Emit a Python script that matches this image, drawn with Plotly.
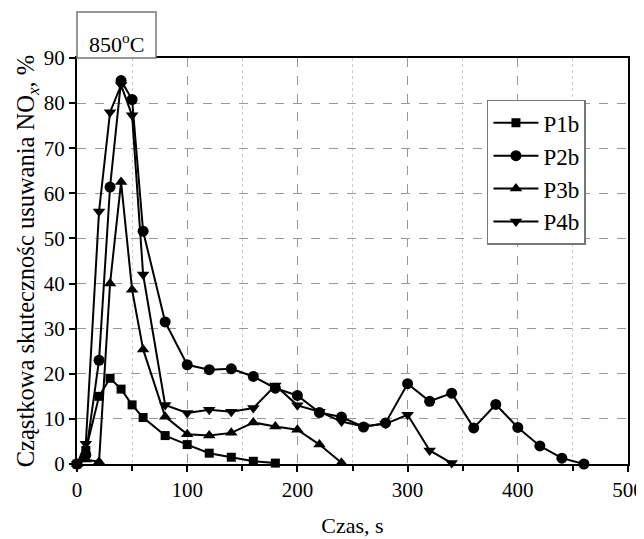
import plotly.graph_objects as go

# ---- data ----
p1b_x = [0, 8, 20, 30, 40, 50, 60, 80, 100, 120, 140, 160, 180]
p1b_y = [0, 3, 15, 19, 16.6, 13.1, 10.3, 6.3, 4.3, 2.4, 1.5, 0.6, 0.2]

p2b_x = [0, 8, 20, 30, 40, 50, 60, 80, 100, 120, 140, 160, 180, 200, 220, 240,
         260, 280, 300, 320, 340, 360, 380, 400, 420, 440, 460]
p2b_y = [0, 2, 23, 61.4, 85, 80.8, 51.6, 31.5, 22, 20.9, 21.1, 19.4, 16.8, 15.2,
         11.4, 10.4, 8.2, 9.1, 17.8, 13.9, 15.7, 8, 13.2, 8.1, 4, 1.3, 0]

p3b_x = [0, 8, 20, 30, 40, 50, 60, 80, 100, 120, 140, 160, 180, 200, 220, 240]
p3b_y = [0, 1, 0.5, 40, 62.5, 38.6, 25.4, 10.5, 6.6, 6.3, 6.9, 9.2, 8.3, 7.6, 4.3, 0.3]

p4b_x = [0, 8, 20, 30, 40, 50, 60, 80, 100, 120, 140, 160, 180, 200, 220, 240,
         260, 280, 300, 320, 340]
p4b_y = [0, 4.5, 56, 78, 84, 77.3, 42, 13.1, 11.3, 12, 11.6, 12.4, 17.4, 13, 11.6,
         9.4, 8.3, 8.9, 10.9, 3, 0.2]

series = [
    ("P1b", p1b_x, p1b_y, "square", 9),
    ("P2b", p2b_x, p2b_y, "circle", 11),
    ("P3b", p3b_x, p3b_y, "triangle-up", 11),
    ("P4b", p4b_x, p4b_y, "triangle-down", 11),
]

FONT = "Liberation Serif"

fig = go.Figure()
for name, xs, ys, sym, sz in series:
    fig.add_trace(go.Scatter(
        x=xs, y=ys, name=name, mode="lines+markers",
        line=dict(color="black", width=2),
        marker=dict(symbol=sym, size=sz, color="black"),
        cliponaxis=False,
    ))

# the page adds an 8px body margin, so the figure is 8px smaller and shifted
fig.update_layout(
    width=636, height=531,
    margin=dict(l=69, r=16, t=50, b=75, autoexpand=False),
    paper_bgcolor="white", plot_bgcolor="white",
    font=dict(family=FONT, size=21, color="black"),
    showlegend=True,
    legend=dict(
        x=0.744, y=0.897, xanchor="left", yanchor="top",
        bordercolor="#777", borderwidth=1.5, bgcolor="white",
        font=dict(family=FONT, size=23),
        itemwidth=45, tracegroupgap=0,
    ),
)

fig.update_xaxes(
    range=[0, 500], dtick=100, tick0=0,
    showline=True, linecolor="black", linewidth=2, mirror=True,
    ticks="outside", ticklen=6, tickwidth=1.5, tickcolor="black",
    showgrid=True, gridcolor="#999", griddash="dash", gridwidth=1,
    minor=dict(dtick=50, ticks="outside", ticklen=5, tickcolor="black",
               showgrid=True, gridcolor="#ccc", griddash="dot", gridwidth=1),
    zeroline=False, automargin=False,
    tickfont=dict(family=FONT, size=21),
    title=dict(text="Czas, s", font=dict(family=FONT, size=22), standoff=16),
)
fig.update_yaxes(
    range=[0, 90], dtick=10, tick0=0,
    showline=True, linecolor="black", linewidth=2, mirror=True,
    ticks="outside", ticklen=6, tickwidth=1.5, tickcolor="black",
    showgrid=True, gridcolor="#999", griddash="dash", gridwidth=1,
    zeroline=False, automargin=False,
    tickfont=dict(family=FONT, size=21),
    title=dict(text="Cząstkowa skutecznośc usuwania NO<sub><i>x</i></sub>, %",
               font=dict(family=FONT, size=24.5), standoff=2),
)

# title box "850°C"
fig.add_shape(type="rect", xref="paper", yref="paper",
              x0=0, x1=0.1434, y0=1.0, y1=1.113,
              line=dict(color="#777", width=1.5), fillcolor="white", layer="above")
fig.add_annotation(xref="paper", yref="paper", x=0.0717, y=1.037,
                   text="850<sup>o</sup>C", showarrow=False,
                   font=dict(family=FONT, size=22, color="black"),
                   xanchor="center", yanchor="middle")

fig.write_html("out.html")
